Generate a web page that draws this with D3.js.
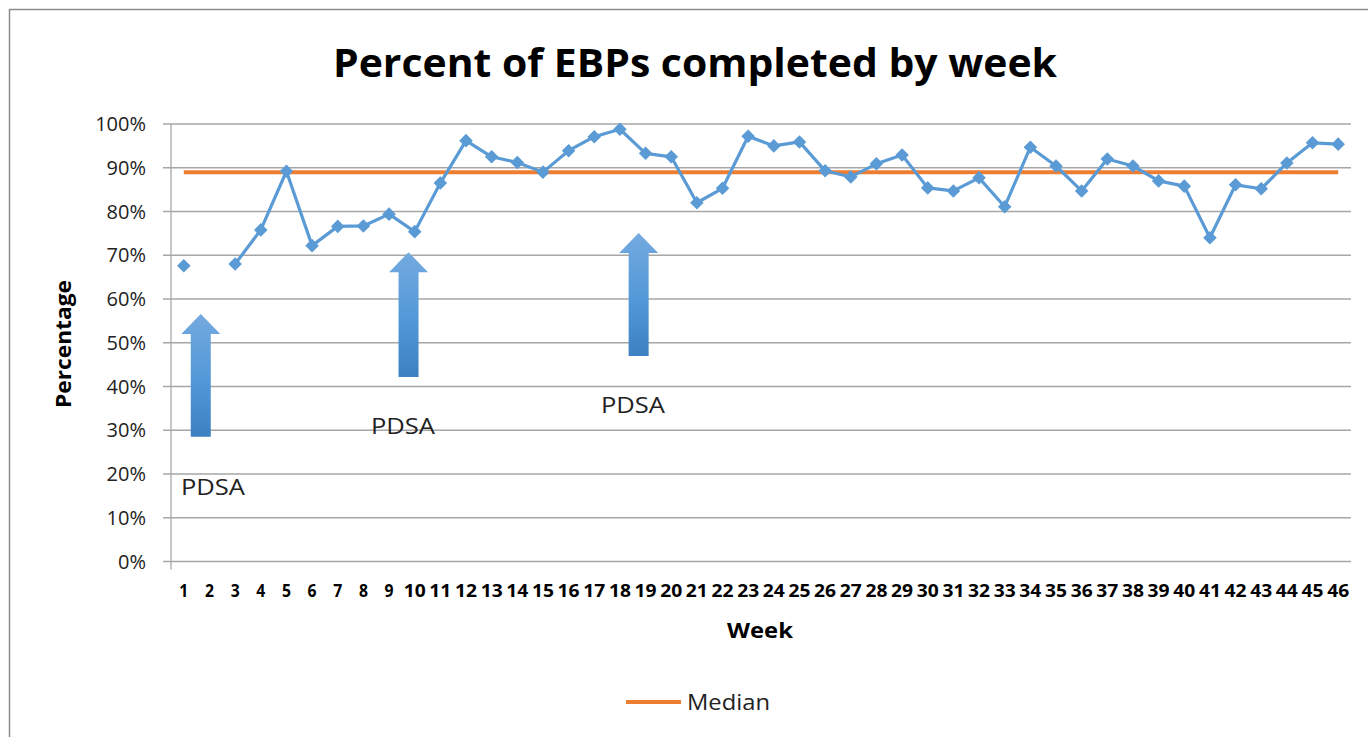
<!DOCTYPE html>
<html>
<head>
<meta charset="utf-8">
<script src="https://cdnjs.cloudflare.com/ajax/libs/d3/7.8.5/d3.min.js"></script>
<style>
  body { margin: 0; background: #fff; }
  svg text { font-family: "Open Sans", "Noto Sans", sans-serif; fill: #000; }
</style>
</head>
<body>
<div id="chart"></div>
<script>
// weeks 1..46, week 2 has no value
var weeks = d3.range(1, 47);
var pctDone = [67.6, null, 68.0, 75.8, 89.2, 72.2, 76.6, 76.7, 79.4, 75.4,
  86.5, 96.2, 92.5, 91.2, 89.0, 93.9, 97.1, 98.8, 93.3, 92.5,
  82.0, 85.3, 97.2, 95.0, 95.9, 89.3, 87.9, 90.9, 92.9, 85.4,
  84.7, 87.7, 81.1, 94.7, 90.4, 84.7, 92.0, 90.4, 87.0, 85.8,
  74.0, 86.1, 85.2, 91.1, 95.7, 95.4];
var median = 89.0;
var yTicks = [0, 10, 20, 30, 40, 50, 60, 70, 80, 90, 100];
// PDSA arrows: week position, tip and tail in percent
var pdsaWeek = [1.66, 9.76, 18.73];
var pdsaTip = [56.6, 70.7, 75.1];
var pdsaTail = [28.5, 42.2, 47.0];

(function () {
  var W = 1368, H = 737;
  var pLeft = 171, pRight = 1351, pTop = 124, pBottom = 561.5;

  var svg = d3.select("#chart").append("svg")
      .attr("width", W).attr("height", H);

  // chart frame (only top and left edges show in the window)
  svg.append("rect")
      .attr("x", 9.5).attr("y", 9.5)
      .attr("width", 1500).attr("height", 900)
      .attr("fill", "none").attr("stroke", "#8c8c8c").attr("stroke-width", 1.5);

  var x = d3.scaleBand().domain(weeks).range([pLeft, pRight]);
  var xc = function (w) { return x(w) + x.bandwidth() / 2; };
  var xw = d3.scaleLinear().domain([1, 46]).range([xc(1), xc(46)]);
  var y = d3.scaleLinear().domain([0, 100]).range([pBottom, pTop]);

  // gridlines
  svg.append("g").selectAll("line").data(yTicks).join("line")
      .attr("x1", pLeft - 8).attr("x2", pRight)
      .attr("y1", function (d) { return y(d); }).attr("y2", function (d) { return y(d); })
      .attr("stroke", "#a6a6a6").attr("stroke-width", 1.3);

  // y axis line
  svg.append("line")
      .attr("x1", pLeft).attr("x2", pLeft).attr("y1", pTop).attr("y2", pBottom + 8)
      .attr("stroke", "#a6a6a6").attr("stroke-width", 1.3);

  // y tick labels
  svg.append("g").selectAll("text").data(yTicks).join("text")
      .attr("x", pLeft - 25).attr("y", function (d) { return y(d) + 7; })
      .attr("text-anchor", "end")
      .style("font-size", "20px").style("fill", "#222")
      .text(function (d) { return d + "%"; });

  // x tick labels
  svg.append("g").selectAll("text").data(weeks).join("text")
      .attr("x", function (d) { return xc(d); }).attr("y", 597)
      .attr("text-anchor", "middle")
      .attr("textLength", function (d) { return d < 10 ? 9 : 22; })
      .attr("lengthAdjust", "spacingAndGlyphs")
      .style("font-size", "18px").style("font-weight", "bold")
      .text(function (d) { return d; });

  // title and axis titles
  svg.append("text").attr("x", 695).attr("y", 77).attr("text-anchor", "middle")
      .attr("textLength", 724).attr("lengthAdjust", "spacingAndGlyphs")
      .style("font-size", "39px").style("font-weight", "bold")
      .text("Percent of EBPs completed by week");

  svg.append("text").attr("x", 760).attr("y", 638).attr("text-anchor", "middle")
      .attr("textLength", 66).attr("lengthAdjust", "spacingAndGlyphs")
      .style("font-size", "22px").style("font-weight", "bold").text("Week");

  svg.append("text").attr("transform", "translate(71,344) rotate(-90)")
      .attr("text-anchor", "middle")
      .attr("textLength", 128).attr("lengthAdjust", "spacingAndGlyphs")
      .style("font-size", "22px").style("font-weight", "bold").text("Percentage");

  // arrows
  var defs = svg.append("defs");
  var grad = defs.append("linearGradient").attr("id", "arrowFill")
      .attr("x1", 0).attr("y1", 0).attr("x2", 0).attr("y2", 1);
  grad.append("stop").attr("offset", "0%").attr("stop-color", "#74aadf");
  grad.append("stop").attr("offset", "55%").attr("stop-color", "#5298d8");
  grad.append("stop").attr("offset", "100%").attr("stop-color", "#3c80c2");

  svg.append("g").selectAll("path").data(pdsaWeek).join("path")
      .attr("d", function (w, i) {
        var cx = xw(w), t = y(pdsaTip[i]), b = y(pdsaTail[i]), hb = t + 20;
        return "M" + cx + "," + t + " L" + (cx + 19.5) + "," + hb + " L" + (cx + 10) + "," + hb +
          " L" + (cx + 10) + "," + b + " L" + (cx - 10) + "," + b + " L" + (cx - 10) + "," + hb +
          " L" + (cx - 19.5) + "," + hb + " Z";
      })
      .attr("fill", "url(#arrowFill)");

  // PDSA labels
  var pdsaLabelX = [181, 371, 601];
  var pdsaLabelY = [495, 434, 413];
  svg.append("g").selectAll("text").data(pdsaLabelX).join("text")
      .attr("x", function (d) { return d; })
      .attr("y", function (d, i) { return pdsaLabelY[i]; })
      .attr("textLength", 64).attr("lengthAdjust", "spacingAndGlyphs")
      .style("font-size", "22px").style("fill", "#222")
      .text("PDSA");

  // median line
  svg.append("line")
      .attr("x1", xc(1)).attr("x2", xc(46))
      .attr("y1", y(median)).attr("y2", y(median))
      .attr("stroke", "#ed7d31").attr("stroke-width", 4);

  // data line
  var line = d3.line()
      .defined(function (d) { return d != null; })
      .x(function (d, i) { return xc(weeks[i]); })
      .y(function (d) { return y(d); });

  svg.append("path").datum(pctDone)
      .attr("d", line)
      .attr("fill", "none").attr("stroke", "#5b9bd5").attr("stroke-width", 3.2)
      .attr("stroke-linejoin", "round");

  svg.append("g").selectAll("path")
      .data(pctDone.map(function (v, i) { return { w: weeks[i], v: v }; })
        .filter(function (d) { return d.v != null; }))
      .join("path")
      .attr("d", d3.symbol(d3.symbolSquare, 92))
      .attr("transform", function (d) { return "translate(" + xc(d.w) + "," + y(d.v) + ") rotate(45)"; })
      .attr("fill", "#5b9bd5");

  // legend
  svg.append("line").attr("x1", 626).attr("x2", 681).attr("y1", 702).attr("y2", 702)
      .attr("stroke", "#ed7d31").attr("stroke-width", 4);
  svg.append("text").attr("x", 687).attr("y", 710)
      .attr("textLength", 83).attr("lengthAdjust", "spacingAndGlyphs")
      .style("font-size", "22px").style("fill", "#222").text("Median");
})();
</script>
</body>
</html>
